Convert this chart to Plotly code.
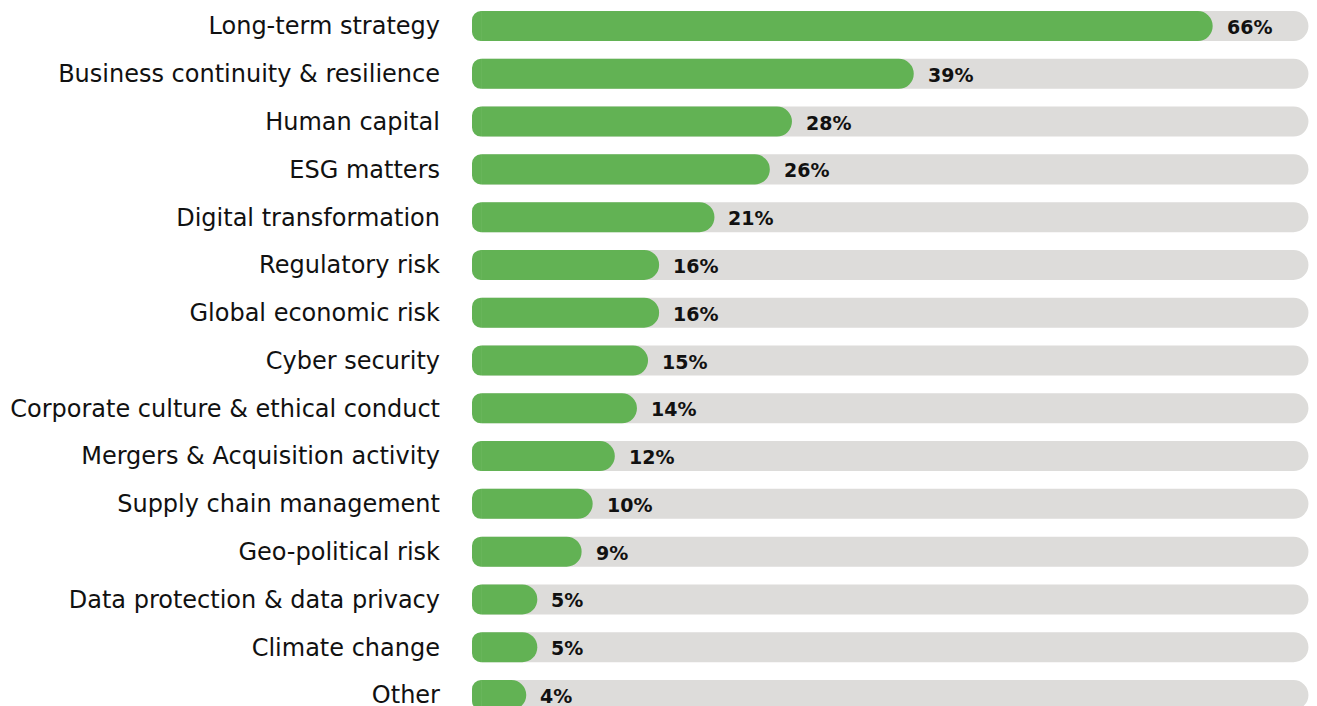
import plotly.graph_objects as go

categorias = [
    "Long-term strategy",
    "Business continuity & resilience",
    "Human capital",
    "ESG matters",
    "Digital transformation",
    "Regulatory risk",
    "Global economic risk",
    "Cyber security",
    "Corporate culture & ethical conduct",
    "Mergers & Acquisition activity",
    "Supply chain management",
    "Geo-political risk",
    "Data protection & data privacy",
    "Climate change",
    "Other",
]
porcentajes = [66, 39, 28, 26, 21, 16, 16, 15, 14, 12, 10, 9, 5, 5, 4]
escala_max = 74.65  # largo del fondo gris

VERDE = "#62b254"
GRIS = "#dddcda"
FUENTE = "DejaVu Sans"
ANCHO = 0.628
CAPA = -0.9  # tapa redondeada a la izquierda (~10 px)

fig = go.Figure()
# fondo gris (eje y)
fig.add_trace(go.Bar(
    y=categorias, x=[escala_max] * len(categorias), orientation="h",
    marker=dict(color=GRIS, cornerradius="50%", line_width=0), width=ANCHO,
    hoverinfo="skip", showlegend=False, yaxis="y",
))
# barras verdes (eje y2 superpuesto, para que el redondeo no dependa del fondo)
fig.add_trace(go.Bar(
    y=categorias, x=porcentajes, orientation="h",
    marker=dict(color=VERDE, cornerradius="50%", line_width=0), width=ANCHO,
    showlegend=False, hovertemplate="%{y}: %{x}%<extra></extra>", yaxis="y2",
))
fig.add_trace(go.Bar(
    y=categorias, x=[CAPA] * len(categorias), orientation="h",
    marker=dict(color=VERDE, cornerradius="50%", line_width=0), width=ANCHO,
    hoverinfo="skip", showlegend=False, yaxis="y2",
))

for cat, val in zip(categorias, porcentajes):
    fig.add_annotation(
        x=val, y=cat, text=f"{val}%", showarrow=False,
        xanchor="left", xshift=12, yshift=-1,
        font=dict(family=FUENTE, size=19, color="#111111", weight=600),
    )

rango_y = [14.23, -0.377]
fig.update_layout(
    template="simple_white",
    width=1301, height=698,
    margin=dict(l=464, r=0, t=0, b=0, pad=0),
    barmode="relative",
    plot_bgcolor="white", paper_bgcolor="white",
    font=dict(family=FUENTE, size=24, color="#111111"),
    xaxis=dict(range=[CAPA, 74.7], visible=False, automargin=False),
    yaxis=dict(range=rango_y, showline=False, ticks="", automargin=False,
               ticklabelstandoff=31, tickfont=dict(size=24)),
    yaxis2=dict(range=rango_y, overlaying="y", visible=False,
                automargin=False, showline=False, ticks=""),
)

fig.write_html("out.html")
